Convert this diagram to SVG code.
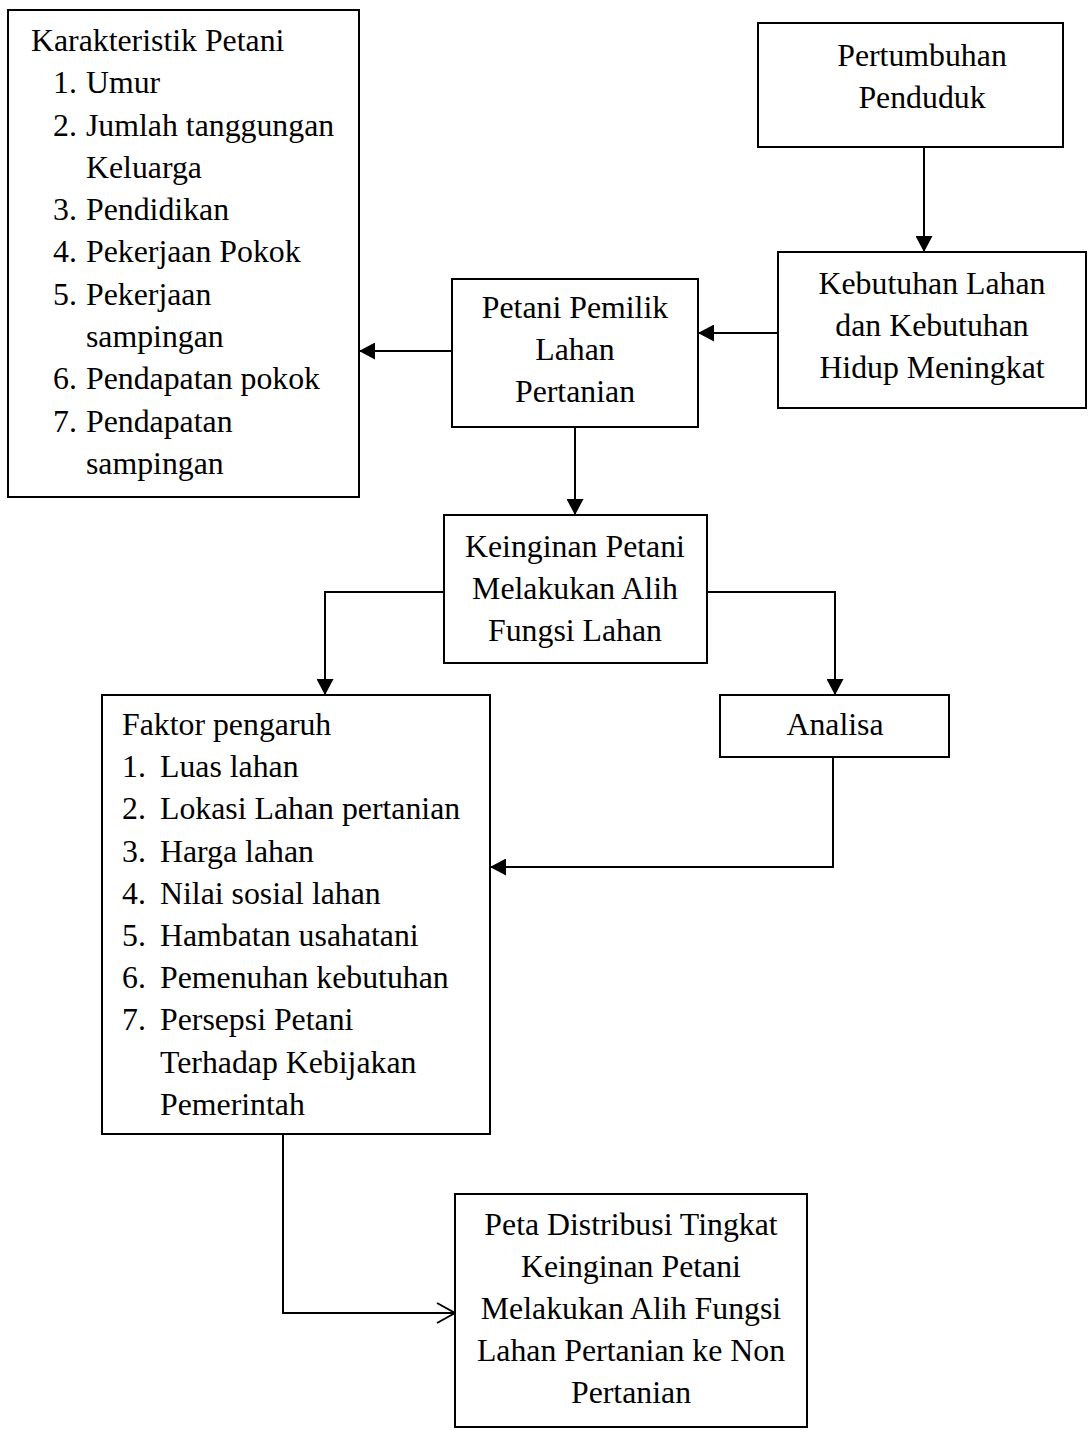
<svg xmlns="http://www.w3.org/2000/svg" width="1090" height="1437" viewBox="0 0 1090 1437">
<style>
.box{fill:#fff;stroke:#000;stroke-width:2}
.t{font-family:"Liberation Serif","Times New Roman",serif;font-size:31.8px;fill:#000}
.c{text-anchor:middle}
.ln{fill:none;stroke:#000;stroke-width:2}
</style>
<defs>
<marker id="ah" markerUnits="userSpaceOnUse" markerWidth="16" markerHeight="17" viewBox="0 0 16 17" refX="16" refY="8.5" orient="auto">
<path d="M0,0 L16,8.5 L0,17 z" fill="#000"/>
</marker>
<marker id="oh" markerUnits="userSpaceOnUse" markerWidth="22" markerHeight="24" viewBox="0 0 22 24" refX="20" refY="12" orient="auto">
<path d="M2,2 L20,12 L2,22" fill="none" stroke="#000" stroke-width="2"/>
</marker>
</defs>
<rect width="1090" height="1437" fill="#fff"/>
<g id="connectors">
<line class="ln" x1="924" y1="147" x2="924" y2="252" marker-end="url(#ah)"/>
<line class="ln" x1="778" y1="333" x2="698" y2="333" marker-end="url(#ah)"/>
<line class="ln" x1="452" y1="351" x2="359" y2="351" marker-end="url(#ah)"/>
<line class="ln" x1="575" y1="427" x2="575" y2="515" marker-end="url(#ah)"/>
<path class="ln" d="M444,592 H325 V695" marker-end="url(#ah)"/>
<path class="ln" d="M707,592 H835 V695" marker-end="url(#ah)"/>
<path class="ln" d="M833,757 V867 H490" marker-end="url(#ah)"/>
<path class="ln" d="M283,1134 V1313 H455" marker-end="url(#oh)"/>
</g>
<g id="karakteristik">
<rect class="box" x="8" y="10" width="351" height="487"/>
<text class="t" x="31" y="51">Karakteristik Petani</text>
<text class="t" x="53" y="93">1.</text><text class="t" x="86" y="93">Umur</text>
<text class="t" x="53" y="136">2.</text><text class="t" x="86" y="136">Jumlah tanggungan</text>
<text class="t" x="86" y="178">Keluarga</text>
<text class="t" x="53" y="220">3.</text><text class="t" x="86" y="220">Pendidikan</text>
<text class="t" x="53" y="262">4.</text><text class="t" x="86" y="262">Pekerjaan Pokok</text>
<text class="t" x="53" y="305">5.</text><text class="t" x="86" y="305">Pekerjaan</text>
<text class="t" x="86" y="347">sampingan</text>
<text class="t" x="53" y="389">6.</text><text class="t" x="86" y="389">Pendapatan pokok</text>
<text class="t" x="53" y="432">7.</text><text class="t" x="86" y="432">Pendapatan</text>
<text class="t" x="86" y="474">sampingan</text>
</g>
<g id="pertumbuhan">
<rect class="box" x="758" y="23" width="305" height="124"/>
<text class="t c" x="922" y="66">Pertumbuhan</text>
<text class="t c" x="922" y="108">Penduduk</text>
</g>
<g id="kebutuhan">
<rect class="box" x="778" y="252" width="308" height="156"/>
<text class="t c" x="932" y="294">Kebutuhan Lahan</text>
<text class="t c" x="932" y="336">dan Kebutuhan</text>
<text class="t c" x="932" y="378">Hidup Meningkat</text>
</g>
<g id="petani-pemilik">
<rect class="box" x="452" y="279" width="246" height="148"/>
<text class="t c" x="575" y="318">Petani Pemilik</text>
<text class="t c" x="575" y="360">Lahan</text>
<text class="t c" x="575" y="402">Pertanian</text>
</g>
<g id="keinginan">
<rect class="box" x="444" y="515" width="263" height="148"/>
<text class="t c" x="575" y="557">Keinginan Petani</text>
<text class="t c" x="575" y="599">Melakukan Alih</text>
<text class="t c" x="575" y="641">Fungsi Lahan</text>
</g>
<g id="faktor">
<rect class="box" x="102" y="695" width="388" height="439"/>
<text class="t" x="122" y="735">Faktor pengaruh</text>
<text class="t" x="122" y="777">1.</text><text class="t" x="160" y="777">Luas lahan</text>
<text class="t" x="122" y="819">2.</text><text class="t" x="160" y="819">Lokasi Lahan pertanian</text>
<text class="t" x="122" y="862">3.</text><text class="t" x="160" y="862">Harga lahan</text>
<text class="t" x="122" y="904">4.</text><text class="t" x="160" y="904">Nilai sosial lahan</text>
<text class="t" x="122" y="946">5.</text><text class="t" x="160" y="946">Hambatan usahatani</text>
<text class="t" x="122" y="988">6.</text><text class="t" x="160" y="988">Pemenuhan kebutuhan</text>
<text class="t" x="122" y="1030">7.</text><text class="t" x="160" y="1030">Persepsi Petani</text>
<text class="t" x="160" y="1073">Terhadap Kebijakan</text>
<text class="t" x="160" y="1115">Pemerintah</text>
</g>
<g id="analisa">
<rect class="box" x="720" y="695" width="229" height="62"/>
<text class="t c" x="835" y="735">Analisa</text>
</g>
<g id="peta">
<rect class="box" x="455" y="1194" width="352" height="233"/>
<text class="t c" x="631" y="1235">Peta Distribusi Tingkat</text>
<text class="t c" x="631" y="1277">Keinginan Petani</text>
<text class="t c" x="631" y="1319">Melakukan Alih Fungsi</text>
<text class="t c" x="631" y="1361">Lahan Pertanian ke Non</text>
<text class="t c" x="631" y="1403">Pertanian</text>
</g>
</svg>
